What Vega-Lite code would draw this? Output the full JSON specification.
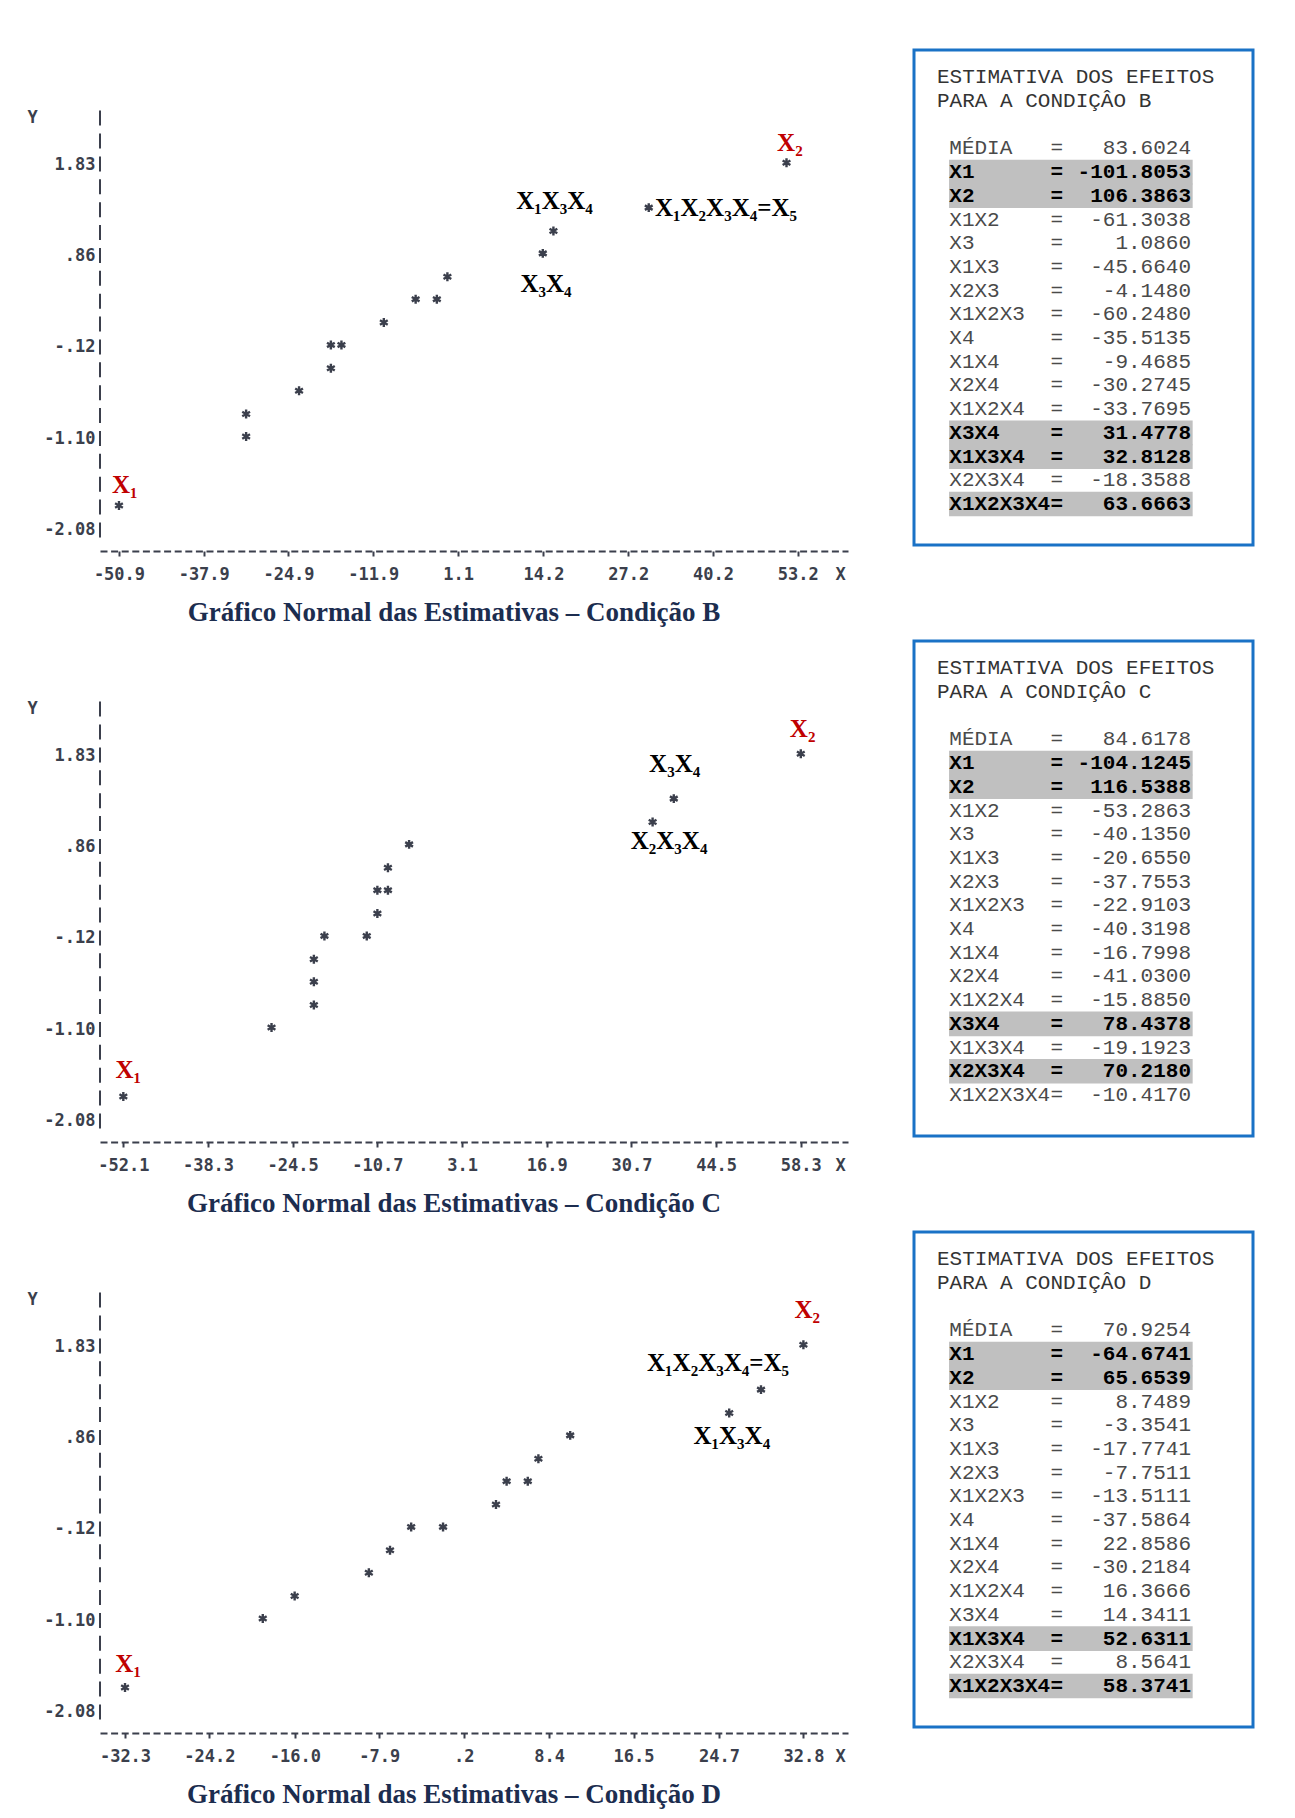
{
  "$schema": "https://vega.github.io/schema/vega-lite/v6.json",
  "background": "white",
  "padding": {"left": 26, "top": 48, "right": 10, "bottom": 4},
  "spacing": 13,
  "datasets": {
    "pontos": [
      {"condicao": "B", "estimativa": -50.9, "escore": -1.84},
      {"condicao": "B", "estimativa": -31.4, "escore": -1.10},
      {"condicao": "B", "estimativa": -31.4, "escore": -0.86},
      {"condicao": "B", "estimativa": -23.28, "escore": -0.61},
      {"condicao": "B", "estimativa": -18.4, "escore": -0.37},
      {"condicao": "B", "estimativa": -18.4, "escore": -0.12},
      {"condicao": "B", "estimativa": -16.78, "escore": -0.12},
      {"condicao": "B", "estimativa": -10.28, "escore": 0.12},
      {"condicao": "B", "estimativa": -5.4, "escore": 0.37},
      {"condicao": "B", "estimativa": -2.15, "escore": 0.37},
      {"condicao": "B", "estimativa": -0.53, "escore": 0.61},
      {"condicao": "B", "estimativa": 14.1, "escore": 0.86},
      {"condicao": "B", "estimativa": 15.73, "escore": 1.10},
      {"condicao": "B", "estimativa": 30.35, "escore": 1.35},
      {"condicao": "B", "estimativa": 51.48, "escore": 1.83},
      {"condicao": "C", "estimativa": -52.1, "escore": -1.84},
      {"condicao": "C", "estimativa": -27.95, "escore": -1.10},
      {"condicao": "C", "estimativa": -21.05, "escore": -0.86},
      {"condicao": "C", "estimativa": -21.05, "escore": -0.61},
      {"condicao": "C", "estimativa": -21.05, "escore": -0.37},
      {"condicao": "C", "estimativa": -19.33, "escore": -0.12},
      {"condicao": "C", "estimativa": -12.43, "escore": -0.12},
      {"condicao": "C", "estimativa": -10.7, "escore": 0.12},
      {"condicao": "C", "estimativa": -10.7, "escore": 0.37},
      {"condicao": "C", "estimativa": -8.98, "escore": 0.37},
      {"condicao": "C", "estimativa": -8.98, "escore": 0.61},
      {"condicao": "C", "estimativa": -5.53, "escore": 0.86},
      {"condicao": "C", "estimativa": 34.15, "escore": 1.10},
      {"condicao": "C", "estimativa": 37.6, "escore": 1.35},
      {"condicao": "C", "estimativa": 58.3, "escore": 1.83},
      {"condicao": "D", "estimativa": -32.3, "escore": -1.84},
      {"condicao": "D", "estimativa": -19.08, "escore": -1.10},
      {"condicao": "D", "estimativa": -16.02, "escore": -0.86},
      {"condicao": "D", "estimativa": -8.9, "escore": -0.61},
      {"condicao": "D", "estimativa": -6.87, "escore": -0.37},
      {"condicao": "D", "estimativa": -4.84, "escore": -0.12},
      {"condicao": "D", "estimativa": -1.78, "escore": -0.12},
      {"condicao": "D", "estimativa": 3.3, "escore": 0.12},
      {"condicao": "D", "estimativa": 4.32, "escore": 0.37},
      {"condicao": "D", "estimativa": 6.35, "escore": 0.37},
      {"condicao": "D", "estimativa": 7.37, "escore": 0.61},
      {"condicao": "D", "estimativa": 10.42, "escore": 0.86},
      {"condicao": "D", "estimativa": 25.68, "escore": 1.10},
      {"condicao": "D", "estimativa": 28.73, "escore": 1.35},
      {"condicao": "D", "estimativa": 32.8, "escore": 1.83}
    ],
    "rotulos": [
      {"condicao": "B", "texto": "X₁", "tipo": "efeito principal", "x": -50.0, "y": -1.60},
      {"condicao": "B", "texto": "X₂", "tipo": "efeito principal", "x": 52.0, "y": 2.06},
      {"condicao": "B", "texto": "X₁X₃X₄", "tipo": "interação", "x": 15.9, "y": 1.44},
      {"condicao": "B", "texto": "X₃X₄", "tipo": "interação", "x": 14.6, "y": 0.55},
      {"condicao": "B", "texto": "X₁X₂X₃X₄=X₅", "tipo": "interação", "x": 42.2, "y": 1.37},
      {"condicao": "C", "texto": "X₁", "tipo": "efeito principal", "x": -51.3, "y": -1.53},
      {"condicao": "C", "texto": "X₂", "tipo": "efeito principal", "x": 58.6, "y": 2.12},
      {"condicao": "C", "texto": "X₃X₄", "tipo": "interação", "x": 37.74, "y": 1.74},
      {"condicao": "C", "texto": "X₂X₃X₄", "tipo": "interação", "x": 36.83, "y": 0.92},
      {"condicao": "D", "texto": "X₁", "tipo": "efeito principal", "x": -32.0, "y": -1.57},
      {"condicao": "D", "texto": "X₂", "tipo": "efeito principal", "x": 33.17, "y": 2.22},
      {"condicao": "D", "texto": "X₁X₂X₃X₄=X₅", "tipo": "interação", "x": 24.61, "y": 1.66},
      {"condicao": "D", "texto": "X₁X₃X₄", "tipo": "interação", "x": 25.93, "y": 0.87}
    ],
    "cabecalhos": [
      {"condicao": "B", "linha": 0, "texto": "ESTIMATIVA DOS EFEITOS"},
      {"condicao": "B", "linha": 1, "texto": "PARA A CONDIÇÂO B"},
      {"condicao": "C", "linha": 0, "texto": "ESTIMATIVA DOS EFEITOS"},
      {"condicao": "C", "linha": 1, "texto": "PARA A CONDIÇÂO C"},
      {"condicao": "D", "linha": 0, "texto": "ESTIMATIVA DOS EFEITOS"},
      {"condicao": "D", "linha": 1, "texto": "PARA A CONDIÇÂO D"}
    ],
    "efeitos": [
      {"condicao": "B", "linha": 3, "termo": "MÉDIA", "valor": 83.6024, "destaque": false},
      {"condicao": "B", "linha": 4, "termo": "X1", "valor": -101.8053, "destaque": true},
      {"condicao": "B", "linha": 5, "termo": "X2", "valor": 106.3863, "destaque": true},
      {"condicao": "B", "linha": 6, "termo": "X1X2", "valor": -61.3038, "destaque": false},
      {"condicao": "B", "linha": 7, "termo": "X3", "valor": 1.0860, "destaque": false},
      {"condicao": "B", "linha": 8, "termo": "X1X3", "valor": -45.6640, "destaque": false},
      {"condicao": "B", "linha": 9, "termo": "X2X3", "valor": -4.1480, "destaque": false},
      {"condicao": "B", "linha": 10, "termo": "X1X2X3", "valor": -60.2480, "destaque": false},
      {"condicao": "B", "linha": 11, "termo": "X4", "valor": -35.5135, "destaque": false},
      {"condicao": "B", "linha": 12, "termo": "X1X4", "valor": -9.4685, "destaque": false},
      {"condicao": "B", "linha": 13, "termo": "X2X4", "valor": -30.2745, "destaque": false},
      {"condicao": "B", "linha": 14, "termo": "X1X2X4", "valor": -33.7695, "destaque": false},
      {"condicao": "B", "linha": 15, "termo": "X3X4", "valor": 31.4778, "destaque": true},
      {"condicao": "B", "linha": 16, "termo": "X1X3X4", "valor": 32.8128, "destaque": true},
      {"condicao": "B", "linha": 17, "termo": "X2X3X4", "valor": -18.3588, "destaque": false},
      {"condicao": "B", "linha": 18, "termo": "X1X2X3X4", "valor": 63.6663, "destaque": true},
      {"condicao": "C", "linha": 3, "termo": "MÉDIA", "valor": 84.6178, "destaque": false},
      {"condicao": "C", "linha": 4, "termo": "X1", "valor": -104.1245, "destaque": true},
      {"condicao": "C", "linha": 5, "termo": "X2", "valor": 116.5388, "destaque": true},
      {"condicao": "C", "linha": 6, "termo": "X1X2", "valor": -53.2863, "destaque": false},
      {"condicao": "C", "linha": 7, "termo": "X3", "valor": -40.1350, "destaque": false},
      {"condicao": "C", "linha": 8, "termo": "X1X3", "valor": -20.6550, "destaque": false},
      {"condicao": "C", "linha": 9, "termo": "X2X3", "valor": -37.7553, "destaque": false},
      {"condicao": "C", "linha": 10, "termo": "X1X2X3", "valor": -22.9103, "destaque": false},
      {"condicao": "C", "linha": 11, "termo": "X4", "valor": -40.3198, "destaque": false},
      {"condicao": "C", "linha": 12, "termo": "X1X4", "valor": -16.7998, "destaque": false},
      {"condicao": "C", "linha": 13, "termo": "X2X4", "valor": -41.0300, "destaque": false},
      {"condicao": "C", "linha": 14, "termo": "X1X2X4", "valor": -15.8850, "destaque": false},
      {"condicao": "C", "linha": 15, "termo": "X3X4", "valor": 78.4378, "destaque": true},
      {"condicao": "C", "linha": 16, "termo": "X1X3X4", "valor": -19.1923, "destaque": false},
      {"condicao": "C", "linha": 17, "termo": "X2X3X4", "valor": 70.2180, "destaque": true},
      {"condicao": "C", "linha": 18, "termo": "X1X2X3X4", "valor": -10.4170, "destaque": false},
      {"condicao": "D", "linha": 3, "termo": "MÉDIA", "valor": 70.9254, "destaque": false},
      {"condicao": "D", "linha": 4, "termo": "X1", "valor": -64.6741, "destaque": true},
      {"condicao": "D", "linha": 5, "termo": "X2", "valor": 65.6539, "destaque": true},
      {"condicao": "D", "linha": 6, "termo": "X1X2", "valor": 8.7489, "destaque": false},
      {"condicao": "D", "linha": 7, "termo": "X3", "valor": -3.3541, "destaque": false},
      {"condicao": "D", "linha": 8, "termo": "X1X3", "valor": -17.7741, "destaque": false},
      {"condicao": "D", "linha": 9, "termo": "X2X3", "valor": -7.7511, "destaque": false},
      {"condicao": "D", "linha": 10, "termo": "X1X2X3", "valor": -13.5111, "destaque": false},
      {"condicao": "D", "linha": 11, "termo": "X4", "valor": -37.5864, "destaque": false},
      {"condicao": "D", "linha": 12, "termo": "X1X4", "valor": 22.8586, "destaque": false},
      {"condicao": "D", "linha": 13, "termo": "X2X4", "valor": -30.2184, "destaque": false},
      {"condicao": "D", "linha": 14, "termo": "X1X2X4", "valor": 16.3666, "destaque": false},
      {"condicao": "D", "linha": 15, "termo": "X3X4", "valor": 14.3411, "destaque": false},
      {"condicao": "D", "linha": 16, "termo": "X1X3X4", "valor": 52.6311, "destaque": true},
      {"condicao": "D", "linha": 17, "termo": "X2X3X4", "valor": 8.5641, "destaque": false},
      {"condicao": "D", "linha": 18, "termo": "X1X2X3X4", "valor": 58.3741, "destaque": true}
    ]
  },
  "vconcat": [
    {
      "spacing": 64,
      "hconcat": [
        {
          "width": 748, "height": 501,
          "view": {"fill": "white", "stroke": null},
          "title": {"text": "Gráfico Normal das Estimativas – Condição B"},
          "layer": [
            {
              "data": {"values": [{}]},
              "mark": {"type": "rule", "stroke": "#3b3f4c", "strokeWidth": 2, "strokeDash": [15, 7.88]},
              "encoding": {
                "x": {"datum": -53.81, "type": "quantitative", "scale": {"domain": [-53.81, 60.91], "nice": false, "zero": false},
                      "axis": {"values": [-50.9, -37.9, -24.9, -11.9, 1.1, 14.2, 27.2, 40.2, 53.2], "title": "X", "titleX": 740, "titleY": 23,
                               "labelExpr": "abs(datum.value) < 1 ? replace(format(datum.value, '.1f'), '0.', '.') : format(datum.value, '.1f')"}},
                "y": {"datum": 2.41, "type": "quantitative", "scale": {"domain": [-2.305, 3.059], "nice": false, "zero": false},
                      "axis": {"values": [-2.08, -1.1, -0.12, 0.86, 1.83], "title": "Y", "titleX": -68, "titleY": 67,
                               "labelExpr": "abs(datum.value) < 1 ? replace(format(datum.value, '.2f'), '0.', '.') : format(datum.value, '.2f')"}},
                "y2": {"datum": -2.16}
              }
            },
            {
              "data": {"name": "pontos"},
              "transform": [{"filter": "datum.condicao === 'B'"}],
              "mark": {"type": "point", "shape": "M0,-1L0,1M-0.87,-0.5L0.87,0.5M-0.87,0.5L0.87,-0.5", "filled": false, "stroke": "#3b3f4c", "strokeWidth": 2.4, "size": 80, "opacity": 1, "yOffset": -2},
              "encoding": {"x": {"field": "estimativa", "type": "quantitative"}, "y": {"field": "escore", "type": "quantitative"}}
            },
            {
              "data": {"name": "rotulos"},
              "transform": [{"filter": "datum.condicao === 'B'"}],
              "mark": {"type": "text", "font": "Liberation Serif", "fontSize": 25, "fontWeight": "bold", "align": "center", "baseline": "middle"},
              "encoding": {
                "x": {"field": "x", "type": "quantitative"},
                "y": {"field": "y", "type": "quantitative"},
                "text": {"field": "texto"},
                "color": {"field": "tipo", "type": "nominal", "scale": {"domain": ["efeito principal", "interação"], "range": ["#C00000", "#000000"]}, "legend": null}
              }
            }
          ]
        },
        {
          "width": 339, "height": 495,
          "view": {"fill": "white", "stroke": "#1a72c6", "strokeWidth": 3},
          "encoding": {
            "y": {"field": "linha", "type": "quantitative", "scale": {"domain": [-0.938, 19.517], "nice": false, "zero": false, "reverse": true}, "axis": null}
          },
          "layer": [
            {
              "data": {"name": "efeitos"},
              "transform": [{"filter": "datum.condicao === 'B' && datum.destaque"}],
              "mark": {"type": "bar", "orient": "horizontal", "color": "#C0C0C0", "size": 24.6},
              "encoding": {"x": {"datum": 2.77, "type": "quantitative", "scale": {"domain": [0, 26.8], "nice": false, "zero": false}, "axis": null}, "x2": {"datum": 22.03}}
            },
            {
              "data": {"name": "cabecalhos"},
              "transform": [{"filter": "datum.condicao === 'B'"}],
              "mark": {"type": "text", "align": "left", "baseline": "middle", "font": "Liberation Mono", "fontSize": 21, "color": "#333333"},
              "encoding": {"x": {"datum": 1.82, "type": "quantitative", "axis": null}, "text": {"field": "texto"}}
            },
            {
              "data": {"name": "efeitos"},
              "transform": [{"filter": "datum.condicao === 'B' && !datum.destaque"}],
              "mark": {"type": "text", "align": "left", "baseline": "middle", "font": "Liberation Mono", "fontSize": 21, "color": "#4a4a4a"},
              "encoding": {"x": {"datum": 2.79, "type": "quantitative", "axis": null}, "text": {"field": "termo"}}
            },
            {
              "data": {"name": "efeitos"},
              "transform": [{"filter": "datum.condicao === 'B' && !datum.destaque"}],
              "mark": {"type": "text", "align": "center", "baseline": "middle", "font": "Liberation Mono", "fontSize": 21, "color": "#4a4a4a", "text": "="},
              "encoding": {"x": {"datum": 11.29, "type": "quantitative", "axis": null}}
            },
            {
              "data": {"name": "efeitos"},
              "transform": [{"filter": "datum.condicao === 'B' && !datum.destaque"}],
              "mark": {"type": "text", "align": "right", "baseline": "middle", "font": "Liberation Mono", "fontSize": 21, "color": "#4a4a4a"},
              "encoding": {"x": {"datum": 21.9, "type": "quantitative", "axis": null}, "text": {"field": "valor", "type": "quantitative", "format": ".4f"}}
            },
            {
              "data": {"name": "efeitos"},
              "transform": [{"filter": "datum.condicao === 'B' && datum.destaque"}],
              "mark": {"type": "text", "align": "left", "baseline": "middle", "font": "Liberation Mono", "fontSize": 21, "fontWeight": "bold", "color": "#000000"},
              "encoding": {"x": {"datum": 2.79, "type": "quantitative", "axis": null}, "text": {"field": "termo"}}
            },
            {
              "data": {"name": "efeitos"},
              "transform": [{"filter": "datum.condicao === 'B' && datum.destaque"}],
              "mark": {"type": "text", "align": "center", "baseline": "middle", "font": "Liberation Mono", "fontSize": 21, "fontWeight": "bold", "color": "#000000", "text": "="},
              "encoding": {"x": {"datum": 11.29, "type": "quantitative", "axis": null}}
            },
            {
              "data": {"name": "efeitos"},
              "transform": [{"filter": "datum.condicao === 'B' && datum.destaque"}],
              "mark": {"type": "text", "align": "right", "baseline": "middle", "font": "Liberation Mono", "fontSize": 21, "fontWeight": "bold", "color": "#000000"},
              "encoding": {"x": {"datum": 21.9, "type": "quantitative", "axis": null}, "text": {"field": "valor", "type": "quantitative", "format": ".4f"}}
            }
          ]
        }
      ]
    },
    {
      "spacing": 64,
      "hconcat": [
        {
          "width": 748, "height": 501,
          "view": {"fill": "white", "stroke": null},
          "title": {"text": "Gráfico Normal das Estimativas – Condição C"},
          "layer": [
            {
              "data": {"values": [{}]},
              "mark": {"type": "rule", "stroke": "#3b3f4c", "strokeWidth": 2, "strokeDash": [15, 7.88]},
              "encoding": {
                "x": {"datum": -55.9, "type": "quantitative", "scale": {"domain": [-55.9, 65.99], "nice": false, "zero": false},
                      "axis": {"values": [-52.1, -38.3, -24.5, -10.7, 3.1, 16.9, 30.7, 44.5, 58.3], "title": "X", "titleX": 740, "titleY": 23,
                               "labelExpr": "abs(datum.value) < 1 ? replace(format(datum.value, '.1f'), '0.', '.') : format(datum.value, '.1f')"}},
                "y": {"datum": 2.41, "type": "quantitative", "scale": {"domain": [-2.305, 3.059], "nice": false, "zero": false},
                      "axis": {"values": [-2.08, -1.1, -0.12, 0.86, 1.83], "title": "Y", "titleX": -68, "titleY": 67,
                               "labelExpr": "abs(datum.value) < 1 ? replace(format(datum.value, '.2f'), '0.', '.') : format(datum.value, '.2f')"}},
                "y2": {"datum": -2.16}
              }
            },
            {
              "data": {"name": "pontos"},
              "transform": [{"filter": "datum.condicao === 'C'"}],
              "mark": {"type": "point", "shape": "M0,-1L0,1M-0.87,-0.5L0.87,0.5M-0.87,0.5L0.87,-0.5", "filled": false, "stroke": "#3b3f4c", "strokeWidth": 2.4, "size": 80, "opacity": 1, "yOffset": -2},
              "encoding": {"x": {"field": "estimativa", "type": "quantitative"}, "y": {"field": "escore", "type": "quantitative"}}
            },
            {
              "data": {"name": "rotulos"},
              "transform": [{"filter": "datum.condicao === 'C'"}],
              "mark": {"type": "text", "font": "Liberation Serif", "fontSize": 25, "fontWeight": "bold", "align": "center", "baseline": "middle"},
              "encoding": {
                "x": {"field": "x", "type": "quantitative"},
                "y": {"field": "y", "type": "quantitative"},
                "text": {"field": "texto"},
                "color": {"field": "tipo", "type": "nominal", "scale": {"domain": ["efeito principal", "interação"], "range": ["#C00000", "#000000"]}, "legend": null}
              }
            }
          ]
        },
        {
          "width": 339, "height": 495,
          "view": {"fill": "white", "stroke": "#1a72c6", "strokeWidth": 3},
          "encoding": {
            "y": {"field": "linha", "type": "quantitative", "scale": {"domain": [-0.938, 19.517], "nice": false, "zero": false, "reverse": true}, "axis": null}
          },
          "layer": [
            {
              "data": {"name": "efeitos"},
              "transform": [{"filter": "datum.condicao === 'C' && datum.destaque"}],
              "mark": {"type": "bar", "orient": "horizontal", "color": "#C0C0C0", "size": 24.6},
              "encoding": {"x": {"datum": 2.77, "type": "quantitative", "scale": {"domain": [0, 26.8], "nice": false, "zero": false}, "axis": null}, "x2": {"datum": 22.03}}
            },
            {
              "data": {"name": "cabecalhos"},
              "transform": [{"filter": "datum.condicao === 'C'"}],
              "mark": {"type": "text", "align": "left", "baseline": "middle", "font": "Liberation Mono", "fontSize": 21, "color": "#333333"},
              "encoding": {"x": {"datum": 1.82, "type": "quantitative", "axis": null}, "text": {"field": "texto"}}
            },
            {
              "data": {"name": "efeitos"},
              "transform": [{"filter": "datum.condicao === 'C' && !datum.destaque"}],
              "mark": {"type": "text", "align": "left", "baseline": "middle", "font": "Liberation Mono", "fontSize": 21, "color": "#4a4a4a"},
              "encoding": {"x": {"datum": 2.79, "type": "quantitative", "axis": null}, "text": {"field": "termo"}}
            },
            {
              "data": {"name": "efeitos"},
              "transform": [{"filter": "datum.condicao === 'C' && !datum.destaque"}],
              "mark": {"type": "text", "align": "center", "baseline": "middle", "font": "Liberation Mono", "fontSize": 21, "color": "#4a4a4a", "text": "="},
              "encoding": {"x": {"datum": 11.29, "type": "quantitative", "axis": null}}
            },
            {
              "data": {"name": "efeitos"},
              "transform": [{"filter": "datum.condicao === 'C' && !datum.destaque"}],
              "mark": {"type": "text", "align": "right", "baseline": "middle", "font": "Liberation Mono", "fontSize": 21, "color": "#4a4a4a"},
              "encoding": {"x": {"datum": 21.9, "type": "quantitative", "axis": null}, "text": {"field": "valor", "type": "quantitative", "format": ".4f"}}
            },
            {
              "data": {"name": "efeitos"},
              "transform": [{"filter": "datum.condicao === 'C' && datum.destaque"}],
              "mark": {"type": "text", "align": "left", "baseline": "middle", "font": "Liberation Mono", "fontSize": 21, "fontWeight": "bold", "color": "#000000"},
              "encoding": {"x": {"datum": 2.79, "type": "quantitative", "axis": null}, "text": {"field": "termo"}}
            },
            {
              "data": {"name": "efeitos"},
              "transform": [{"filter": "datum.condicao === 'C' && datum.destaque"}],
              "mark": {"type": "text", "align": "center", "baseline": "middle", "font": "Liberation Mono", "fontSize": 21, "fontWeight": "bold", "color": "#000000", "text": "="},
              "encoding": {"x": {"datum": 11.29, "type": "quantitative", "axis": null}}
            },
            {
              "data": {"name": "efeitos"},
              "transform": [{"filter": "datum.condicao === 'C' && datum.destaque"}],
              "mark": {"type": "text", "align": "right", "baseline": "middle", "font": "Liberation Mono", "fontSize": 21, "fontWeight": "bold", "color": "#000000"},
              "encoding": {"x": {"datum": 21.9, "type": "quantitative", "axis": null}, "text": {"field": "valor", "type": "quantitative", "format": ".4f"}}
            }
          ]
        }
      ]
    },
    {
      "spacing": 64,
      "hconcat": [
        {
          "width": 748, "height": 501,
          "view": {"fill": "white", "stroke": null},
          "title": {"text": "Gráfico Normal das Estimativas – Condição D"},
          "layer": [
            {
              "data": {"values": [{}]},
              "mark": {"type": "rule", "stroke": "#3b3f4c", "strokeWidth": 2, "strokeDash": [15, 7.88]},
              "encoding": {
                "x": {"datum": -34.7, "type": "quantitative", "scale": {"domain": [-34.7, 37.08], "nice": false, "zero": false},
                      "axis": {"values": [-32.3, -24.2, -16.0, -7.9, 0.2, 8.4, 16.5, 24.7, 32.8], "title": "X", "titleX": 740, "titleY": 23,
                               "labelExpr": "abs(datum.value) < 1 ? replace(format(datum.value, '.1f'), '0.', '.') : format(datum.value, '.1f')"}},
                "y": {"datum": 2.41, "type": "quantitative", "scale": {"domain": [-2.305, 3.059], "nice": false, "zero": false},
                      "axis": {"values": [-2.08, -1.1, -0.12, 0.86, 1.83], "title": "Y", "titleX": -68, "titleY": 67,
                               "labelExpr": "abs(datum.value) < 1 ? replace(format(datum.value, '.2f'), '0.', '.') : format(datum.value, '.2f')"}},
                "y2": {"datum": -2.16}
              }
            },
            {
              "data": {"name": "pontos"},
              "transform": [{"filter": "datum.condicao === 'D'"}],
              "mark": {"type": "point", "shape": "M0,-1L0,1M-0.87,-0.5L0.87,0.5M-0.87,0.5L0.87,-0.5", "filled": false, "stroke": "#3b3f4c", "strokeWidth": 2.4, "size": 80, "opacity": 1, "yOffset": -2},
              "encoding": {"x": {"field": "estimativa", "type": "quantitative"}, "y": {"field": "escore", "type": "quantitative"}}
            },
            {
              "data": {"name": "rotulos"},
              "transform": [{"filter": "datum.condicao === 'D'"}],
              "mark": {"type": "text", "font": "Liberation Serif", "fontSize": 25, "fontWeight": "bold", "align": "center", "baseline": "middle"},
              "encoding": {
                "x": {"field": "x", "type": "quantitative"},
                "y": {"field": "y", "type": "quantitative"},
                "text": {"field": "texto"},
                "color": {"field": "tipo", "type": "nominal", "scale": {"domain": ["efeito principal", "interação"], "range": ["#C00000", "#000000"]}, "legend": null}
              }
            }
          ]
        },
        {
          "width": 339, "height": 495,
          "view": {"fill": "white", "stroke": "#1a72c6", "strokeWidth": 3},
          "encoding": {
            "y": {"field": "linha", "type": "quantitative", "scale": {"domain": [-0.938, 19.517], "nice": false, "zero": false, "reverse": true}, "axis": null}
          },
          "layer": [
            {
              "data": {"name": "efeitos"},
              "transform": [{"filter": "datum.condicao === 'D' && datum.destaque"}],
              "mark": {"type": "bar", "orient": "horizontal", "color": "#C0C0C0", "size": 24.6},
              "encoding": {"x": {"datum": 2.77, "type": "quantitative", "scale": {"domain": [0, 26.8], "nice": false, "zero": false}, "axis": null}, "x2": {"datum": 22.03}}
            },
            {
              "data": {"name": "cabecalhos"},
              "transform": [{"filter": "datum.condicao === 'D'"}],
              "mark": {"type": "text", "align": "left", "baseline": "middle", "font": "Liberation Mono", "fontSize": 21, "color": "#333333"},
              "encoding": {"x": {"datum": 1.82, "type": "quantitative", "axis": null}, "text": {"field": "texto"}}
            },
            {
              "data": {"name": "efeitos"},
              "transform": [{"filter": "datum.condicao === 'D' && !datum.destaque"}],
              "mark": {"type": "text", "align": "left", "baseline": "middle", "font": "Liberation Mono", "fontSize": 21, "color": "#4a4a4a"},
              "encoding": {"x": {"datum": 2.79, "type": "quantitative", "axis": null}, "text": {"field": "termo"}}
            },
            {
              "data": {"name": "efeitos"},
              "transform": [{"filter": "datum.condicao === 'D' && !datum.destaque"}],
              "mark": {"type": "text", "align": "center", "baseline": "middle", "font": "Liberation Mono", "fontSize": 21, "color": "#4a4a4a", "text": "="},
              "encoding": {"x": {"datum": 11.29, "type": "quantitative", "axis": null}}
            },
            {
              "data": {"name": "efeitos"},
              "transform": [{"filter": "datum.condicao === 'D' && !datum.destaque"}],
              "mark": {"type": "text", "align": "right", "baseline": "middle", "font": "Liberation Mono", "fontSize": 21, "color": "#4a4a4a"},
              "encoding": {"x": {"datum": 21.9, "type": "quantitative", "axis": null}, "text": {"field": "valor", "type": "quantitative", "format": ".4f"}}
            },
            {
              "data": {"name": "efeitos"},
              "transform": [{"filter": "datum.condicao === 'D' && datum.destaque"}],
              "mark": {"type": "text", "align": "left", "baseline": "middle", "font": "Liberation Mono", "fontSize": 21, "fontWeight": "bold", "color": "#000000"},
              "encoding": {"x": {"datum": 2.79, "type": "quantitative", "axis": null}, "text": {"field": "termo"}}
            },
            {
              "data": {"name": "efeitos"},
              "transform": [{"filter": "datum.condicao === 'D' && datum.destaque"}],
              "mark": {"type": "text", "align": "center", "baseline": "middle", "font": "Liberation Mono", "fontSize": 21, "fontWeight": "bold", "color": "#000000", "text": "="},
              "encoding": {"x": {"datum": 11.29, "type": "quantitative", "axis": null}}
            },
            {
              "data": {"name": "efeitos"},
              "transform": [{"filter": "datum.condicao === 'D' && datum.destaque"}],
              "mark": {"type": "text", "align": "right", "baseline": "middle", "font": "Liberation Mono", "fontSize": 21, "fontWeight": "bold", "color": "#000000"},
              "encoding": {"x": {"datum": 21.9, "type": "quantitative", "axis": null}, "text": {"field": "valor", "type": "quantitative", "format": ".4f"}}
            }
          ]
        }
      ]
    }
  ],
  "config": {
    "view": {"stroke": null},
    "locale": {"number": {"decimal": ".", "thousands": ",", "grouping": [3], "currency": ["", ""], "minus": "-"}},
    "axisX": {
      "grid": false, "domainColor": "#3b3f4c", "domainWidth": 2, "domainDash": [7, 3.6],
      "tickColor": "#3b3f4c", "tickWidth": 2, "tickSize": 5,
      "labelFont": "DejaVu Sans Mono", "labelFontSize": 17, "labelFontWeight": "bold", "labelColor": "#3b3f4c",
      "labelPadding": 10, "labelFlush": false, "labelOverlap": false, "labelBound": false,
      "titleFont": "DejaVu Sans Mono", "titleFontSize": 17, "titleFontWeight": "bold", "titleColor": "#3b3f4c",
      "titleAngle": 0, "titleAlign": "center", "titleBaseline": "middle"
    },
    "axisY": {
      "grid": false, "domain": false, "ticks": false,
      "labelFont": "DejaVu Sans Mono", "labelFontSize": 17, "labelFontWeight": "bold", "labelColor": "#3b3f4c",
      "labelPadding": 5, "labelFlush": false, "labelOverlap": false, "labelBound": false,
      "titleFont": "DejaVu Sans Mono", "titleFontSize": 17, "titleFontWeight": "bold", "titleColor": "#3b3f4c",
      "titleAngle": 0, "titleAlign": "center", "titleBaseline": "middle"
    },
    "title": {
      "orient": "bottom", "anchor": "middle", "frame": "group",
      "font": "Liberation Serif", "fontSize": 27, "fontWeight": "bold", "color": "#1c2d4f",
      "offset": 18, "dx": -20
    }
  }
}
